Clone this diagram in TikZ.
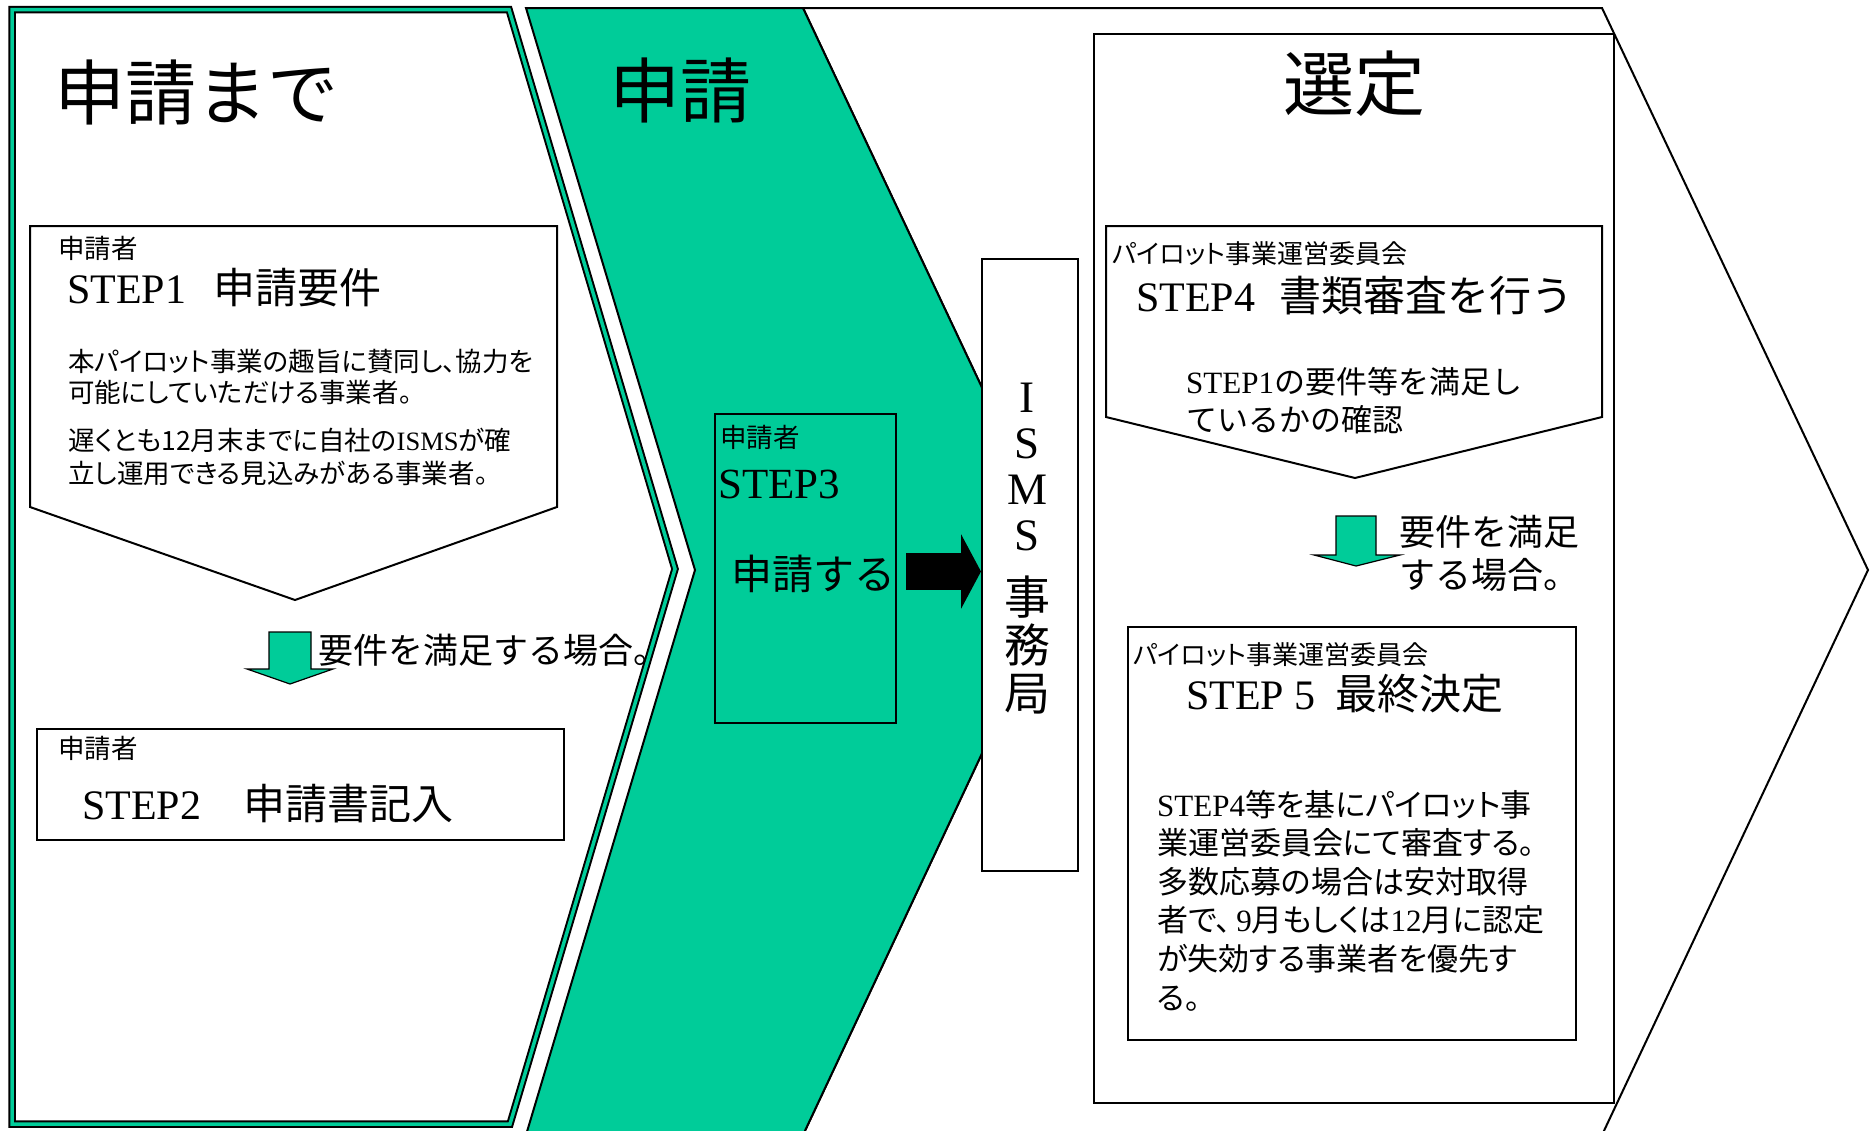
\documentclass[tikz,border=0pt]{standalone}
\usepackage{fontspec}
\setmainfont{Noto Sans CJK JP}
\newfontfamily\pj{Noto Sans CJK JP}[RawFeature=+palt]
\newfontfamily\tms{Liberation Serif}
\usetikzlibrary{arrows.meta,calc}
\definecolor{grn}{RGB}{0,204,153}
\newcommand\fs[2]{\fontsize{#1}{#2}\selectfont}
\begin{document}
\begin{tikzpicture}[x=1pt,y=-1pt,
  outl/.style={draw=black,line width=2pt,line join=miter},
  box/.style={draw=black,line width=2pt,fill=white,inner sep=0pt},
  openbox/.style={draw=black,line width=2pt,inner sep=0pt},
  txt/.style={inner sep=0pt,anchor=west,align=left},
  ctr/.style={inner sep=0pt,anchor=center,align=center},
  garrow/.style={draw=black,line width=1.2pt,fill=grn,line join=miter},
  blockarrow/.style={line width=37pt,-{Triangle[length=20pt,width=74pt]}}
  ]
\useasboundingbox (0,0) rectangle (1874,1130);
\clip (0,0) rectangle (1874,1130);
\fill[white] (0,0) rectangle (1874,1130);
% right white chevron
\draw[outl,fill=white] (803,8) -- (1602,8) -- (1868,570) -- (1602,1135) -- (803,1135) -- (1068,570) -- cycle;
% green chevron
\draw[outl,fill=grn] (526,8) -- (803,8) -- (1068,570) -- (803,1135) -- (526,1135) -- (695,570) -- cycle;
% left chevron with double border
\path[fill=white] (12,9.5) -- (509,9.5) -- (675,569) -- (510,1124) -- (12,1124) -- cycle;
\draw[black,line width=7.5pt,line join=miter] (12,9.5) -- (509,9.5) -- (675,569) -- (510,1124) -- (12,1124) -- cycle;
\draw[grn,line width=3.5pt,line join=miter] (12,9.5) -- (509,9.5) -- (675,569) -- (510,1124) -- (12,1124) -- cycle;

% titles
\node[ctr,font=\fs{71}{80}] (t1) at (196,92) {申請まで};
\node[ctr,font=\fs{71}{80}] (t2) at (680,90) {申請};

% STEP1 pentagon
\draw[outl,fill=white] (30,226) -- (557,226) -- (557,507) -- (295,600) -- (30,507) -- cycle;
\node[txt,font=\fs{26.5}{30}] (s1who) at (58,248) {申請者};
\node[txt,font=\fs{42}{50}] (s1title) at (67,288) {{\tms STEP1}\hspace{27pt}申請要件};
\node[txt,font=\pj\fs{26.5}{31}] (s1b1) at (68,377) {本パイロット事業の趣旨に賛同し、協力を\\可能にしていただける事業者。};
\node[txt,font=\pj\fs{26.5}{33}] (s1b2) at (68,456.5) {遅くとも12月末までに自社の{\tms ISMS}が確\\立し運用できる見込みがある事業者。};

% green arrow 1
\coordinate (ga1) at (290,632);
\draw[garrow] (ga1) ++(-21,0) -- ++(42,0) -- ++(0,37) -- ++(22,0) -- ++(-43,15) -- ++(-43,-15) -- ++(22,0) -- cycle;
\node[txt,font=\fs{35}{40}] (cond1) at (318,650) {要件を満足する場合。};

% STEP2 box
\node[box,anchor=north west,minimum width=527,minimum height=111] (s2) at (36,728) {};
\node[txt,font=\fs{26.5}{30}] (s2who) at (58,748) {申請者};
\node[txt,font=\fs{42}{50}] (s2title) at (82,804) {{\tms STEP2}\hspace{42pt}申請書記入};

% STEP3 box
\node[openbox,anchor=north west,minimum width=181,minimum height=309] (s3) at (714,413) {};
\node[txt,font=\fs{26.5}{30}] (s3who) at (720,437) {申請者};
\node[txt,font=\tms\fs{43}{50}] (s3step) at (718,484) {STEP3};
\node[txt,font=\fs{41}{46}] (s3act) at (731,574) {申請する};

% ISMS box
\node[box,anchor=north west,minimum width=96,minimum height=612] (isms) at (981,258) {};
\node[ctr,font=\tms\fs{45}{46}] (ismsA) at (1027,467) {I\\S\\M\\S};
\node[ctr,font=\fs{46}{48}] (ismsB) at (1027,645) {事\\務\\局};

% black arrow
\coordinate (atail) at (906,571.5);
\draw[blockarrow] (atail) -- (isms.west |- atail);

% selection box
\node[box,anchor=north west,minimum width=520,minimum height=1069] (sel) at (1093,33) {};
\node[ctr,font=\fs{71}{80}] (t3) at (1354,84) {選定};

% STEP4 pentagon
\draw[outl,fill=white] (1106,226) -- (1602,226) -- (1602,417) -- (1355,478) -- (1106,417) -- cycle;
\node[txt,font=\pj\fs{26}{30}] (s4who) at (1112,254) {パイロット事業運営委員会};
\node[txt,font=\fs{42}{50}] (s4title) at (1136,296) {{\tms STEP4}\hspace{24pt}書類審査を行う};
\node[txt,font=\fs{31}{38}] (s4body) at (1186,401) {{\tms STEP1}の要件等を満足し\\ているかの確認};

% green arrow 2
\coordinate (ga2) at (1356,516);
\draw[garrow] (ga2) ++(-20,0) -- ++(40,0) -- ++(0,39) -- ++(24,0) -- ++(-44,11) -- ++(-42,-11) -- ++(22,0) -- cycle;
\node[txt,font=\fs{36}{43}] (cond2) at (1399,553.5) {要件を満足\\する場合。};

% STEP5 box
\node[box,anchor=north west,minimum width=448,minimum height=413] (s5) at (1127,626) {};
\node[txt,font=\pj\fs{26}{30}] (s5who) at (1133,655) {パイロット事業運営委員会};
\node[txt,font=\fs{42}{50}] (s5title) at (1186,694) {{\tms STEP 5}\hspace{20pt}最終決定};
\node[txt,font=\pj\fs{31}{38.6}] (s5body) at (1157,900.5) {{\tms STEP4}等を基にパイロット事\\業運営委員会にて審査する。\\多数応募の場合は安対取得\\者で、\,{\tms 9}月もしくは{\tms 12}月に認定\\が失効する事業者を優先す\\る。};
\end{tikzpicture}
\end{document}
